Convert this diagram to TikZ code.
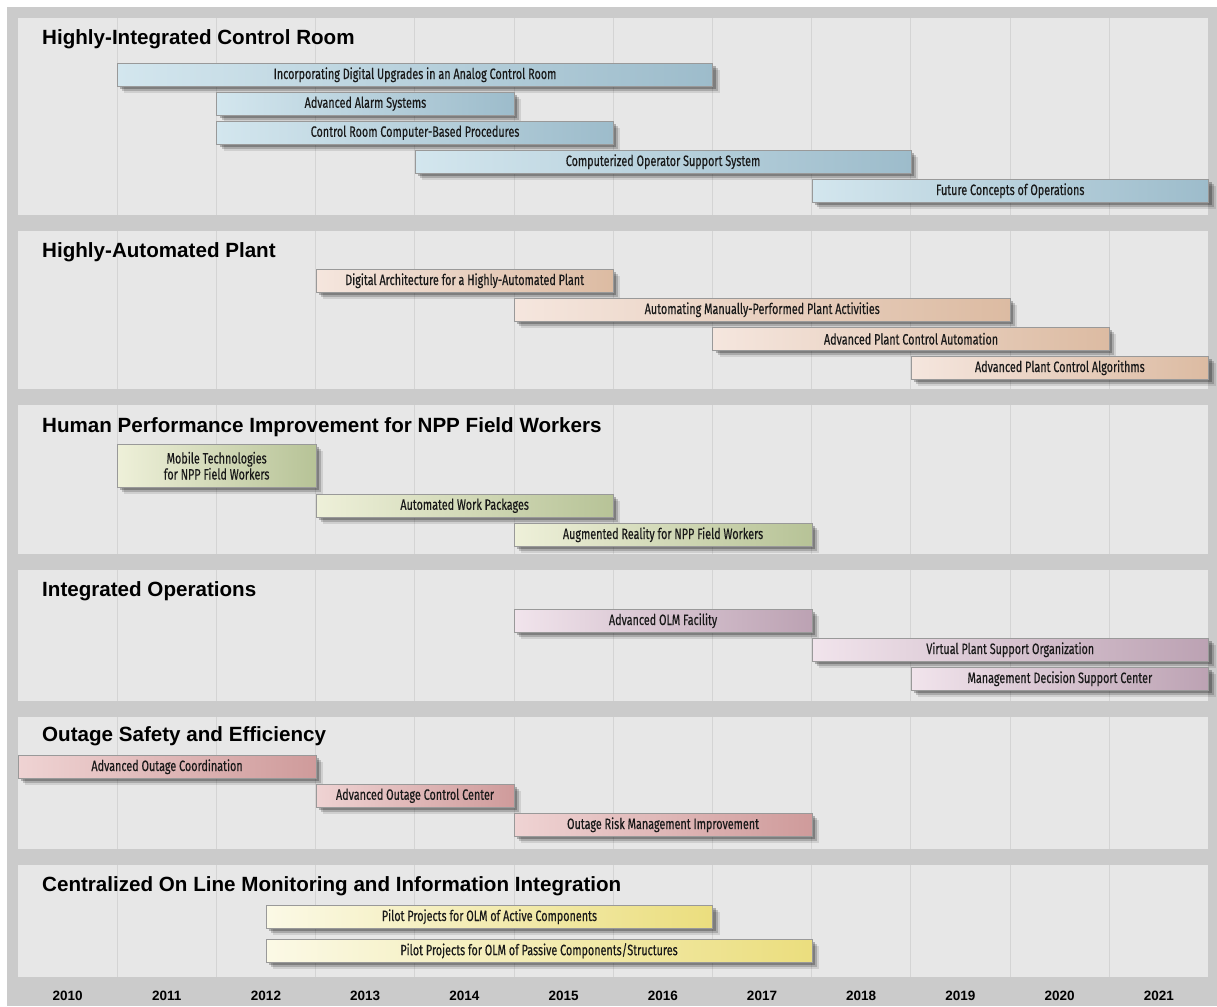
\documentclass[tikz,border=0pt]{standalone}
\usepackage{fontspec}
\usetikzlibrary{shadows}
\newfontfamily\titlefont{Liberation Sans}
\newfontfamily\barfont[FakeStretch=0.72, FakeBold=0.35]{Fira Sans}
\definecolor{outergray}{HTML}{CBCBCB}
\definecolor{panelgray}{HTML}{E7E7E7}
\definecolor{gridgray}{HTML}{D4D4D4}
\definecolor{roomleft}{HTML}{D3E6EE}
\definecolor{roomright}{HTML}{9DBCCB}
\definecolor{plantleft}{HTML}{F5E6DE}
\definecolor{plantright}{HTML}{DCBBA2}
\definecolor{fieldleft}{HTML}{EEF0D9}
\definecolor{fieldright}{HTML}{B7C397}
\definecolor{opsleft}{HTML}{F1E4EC}
\definecolor{opsright}{HTML}{BCA2B3}
\definecolor{outageleft}{HTML}{EFD3D3}
\definecolor{outageright}{HTML}{CF9B9B}
\definecolor{olmleft}{HTML}{FBF9E6}
\definecolor{olmright}{HTML}{EBDE7E}
\newcommand{\yrw}{99.2}
\tikzset{
    panel-box/.style = {fill=panelgray},
    panel-title/.style = {anchor=base west, inner sep=0pt, font=\titlefont\bfseries\fontsize{20.6}{24}\selectfont},
    year-label/.style = {anchor=base, inner sep=0pt, font=\titlefont\bfseries\fontsize{13.5}{16}\selectfont},
    gantt-bar/.style = {rectangle, draw=black!40, line width=0.5pt, anchor=north west, inner sep=0pt,
        minimum height=23pt, align=center, text=black!90, font=\barfont\fontsize{15}{16}\selectfont,
        drop shadow={shadow xshift=7pt, shadow yshift=-7pt, opacity=0.1, fill=black},
        drop shadow={shadow xshift=5pt, shadow yshift=-5pt, opacity=0.18, fill=black},
        drop shadow={shadow xshift=3pt, shadow yshift=-3pt, opacity=0.25, fill=black}},
    room-bar/.style = {gantt-bar, left color=roomleft, right color=roomright},
    plant-bar/.style = {gantt-bar, left color=plantleft, right color=plantright},
    field-bar/.style = {gantt-bar, left color=fieldleft, right color=fieldright},
    ops-bar/.style = {gantt-bar, left color=opsleft, right color=opsright},
    outage-bar/.style = {gantt-bar, left color=outageleft, right color=outageright},
    olm-bar/.style = {gantt-bar, left color=olmleft, right color=olmright},
}
\begin{document}
\begin{tikzpicture}[x=1pt, y=-1pt]
\useasboundingbox (0,0) rectangle (1217,1006);
\fill[white] (0,0) rectangle (1217,1006);
\fill[outergray] (7,7) rectangle (1217,1006);
% panels with year grid
\foreach \ptop/\pbot in {18/215, 231/389, 405/554, 570/701, 717/849, 865/977} {
    \fill[panel-box] (18,\ptop) rectangle (1208,\pbot);
    \foreach \k in {1,...,11}
        \draw[gridgray, line width=1pt] ({18+\k*\yrw},\ptop) -- ({18+\k*\yrw},\pbot);
}
% years
\foreach \k in {0,...,11} {
    \pgfmathtruncatemacro{\yearno}{2010+\k}
    \node[year-label] (year\k) at ({18+(\k+0.5)*\yrw},1000) {\yearno};
}
% Highly-Integrated Control Room
\node[panel-title] (room) at (42,45) {Highly-Integrated Control Room};
\node[room-bar, minimum width=6*\yrw*1pt] (upgrades) at ({18+1*\yrw},63) {Incorporating Digital Upgrades in an Analog Control Room};
\node[room-bar, minimum width=3*\yrw*1pt] (alarms) at ({18+2*\yrw},92) {Advanced Alarm Systems};
\node[room-bar, minimum width=4*\yrw*1pt] (procedures) at ({18+2*\yrw},121) {Control Room Computer-Based Procedures};
\node[room-bar, minimum width=5*\yrw*1pt] (support) at ({18+4*\yrw},150) {Computerized Operator Support System};
\node[room-bar, minimum width=4*\yrw*1pt] (conops) at ({18+8*\yrw},179) {Future Concepts of Operations};
% Highly-Automated Plant
\node[panel-title] (plant) at (42,257) {Highly-Automated Plant};
\node[plant-bar, minimum width=3*\yrw*1pt] (architecture) at ({18+3*\yrw},269) {Digital Architecture for a Highly-Automated Plant};
\node[plant-bar, minimum width=5*\yrw*1pt] (manual) at ({18+5*\yrw},298) {Automating Manually-Performed Plant Activities};
\node[plant-bar, minimum width=4*\yrw*1pt] (automation) at ({18+7*\yrw},327) {Advanced Plant Control Automation};
\node[plant-bar, minimum width=3*\yrw*1pt] (algorithms) at ({18+9*\yrw},356) {Advanced Plant Control Algorithms};
% Human Performance Improvement
\node[panel-title] (field) at (42,432) {Human Performance Improvement for NPP Field Workers};
\node[field-bar, minimum width=2*\yrw*1pt, minimum height=43pt] (mobile) at ({18+1*\yrw},444) {Mobile Technologies\\for NPP Field Workers};
\node[field-bar, minimum width=3*\yrw*1pt] (workpkg) at ({18+3*\yrw},494) {Automated Work Packages};
\node[field-bar, minimum width=3*\yrw*1pt] (augmented) at ({18+5*\yrw},523) {Augmented Reality for NPP Field Workers};
% Integrated Operations
\node[panel-title] (ops) at (42,596) {Integrated Operations};
\node[ops-bar, minimum width=3*\yrw*1pt] (olmfacility) at ({18+5*\yrw},609) {Advanced OLM Facility};
\node[ops-bar, minimum width=4*\yrw*1pt] (virtual) at ({18+8*\yrw},638) {Virtual Plant Support Organization};
\node[ops-bar, minimum width=3*\yrw*1pt] (decision) at ({18+9*\yrw},667) {Management Decision Support Center};
% Outage Safety and Efficiency
\node[panel-title] (outage) at (42,741) {Outage Safety and Efficiency};
\node[outage-bar, minimum width=3*\yrw*1pt] (coordination) at (18,755) {Advanced Outage Coordination};
\node[outage-bar, minimum width=2*\yrw*1pt] (controlcenter) at ({18+3*\yrw},784) {Advanced Outage Control Center};
\node[outage-bar, minimum width=3*\yrw*1pt] (risk) at ({18+5*\yrw},813) {Outage Risk Management Improvement};
% Centralized On Line Monitoring
\node[panel-title] (olm) at (42,891) {Centralized On Line Monitoring and Information Integration};
\node[olm-bar, minimum width=4.5*\yrw*1pt] (active) at ({18+2.5*\yrw},905) {Pilot Projects for OLM of Active Components};
\node[olm-bar, minimum width=5.5*\yrw*1pt] (passive) at ({18+2.5*\yrw},939) {Pilot Projects for OLM of Passive Components/Structures};
\end{tikzpicture}
\end{document}
